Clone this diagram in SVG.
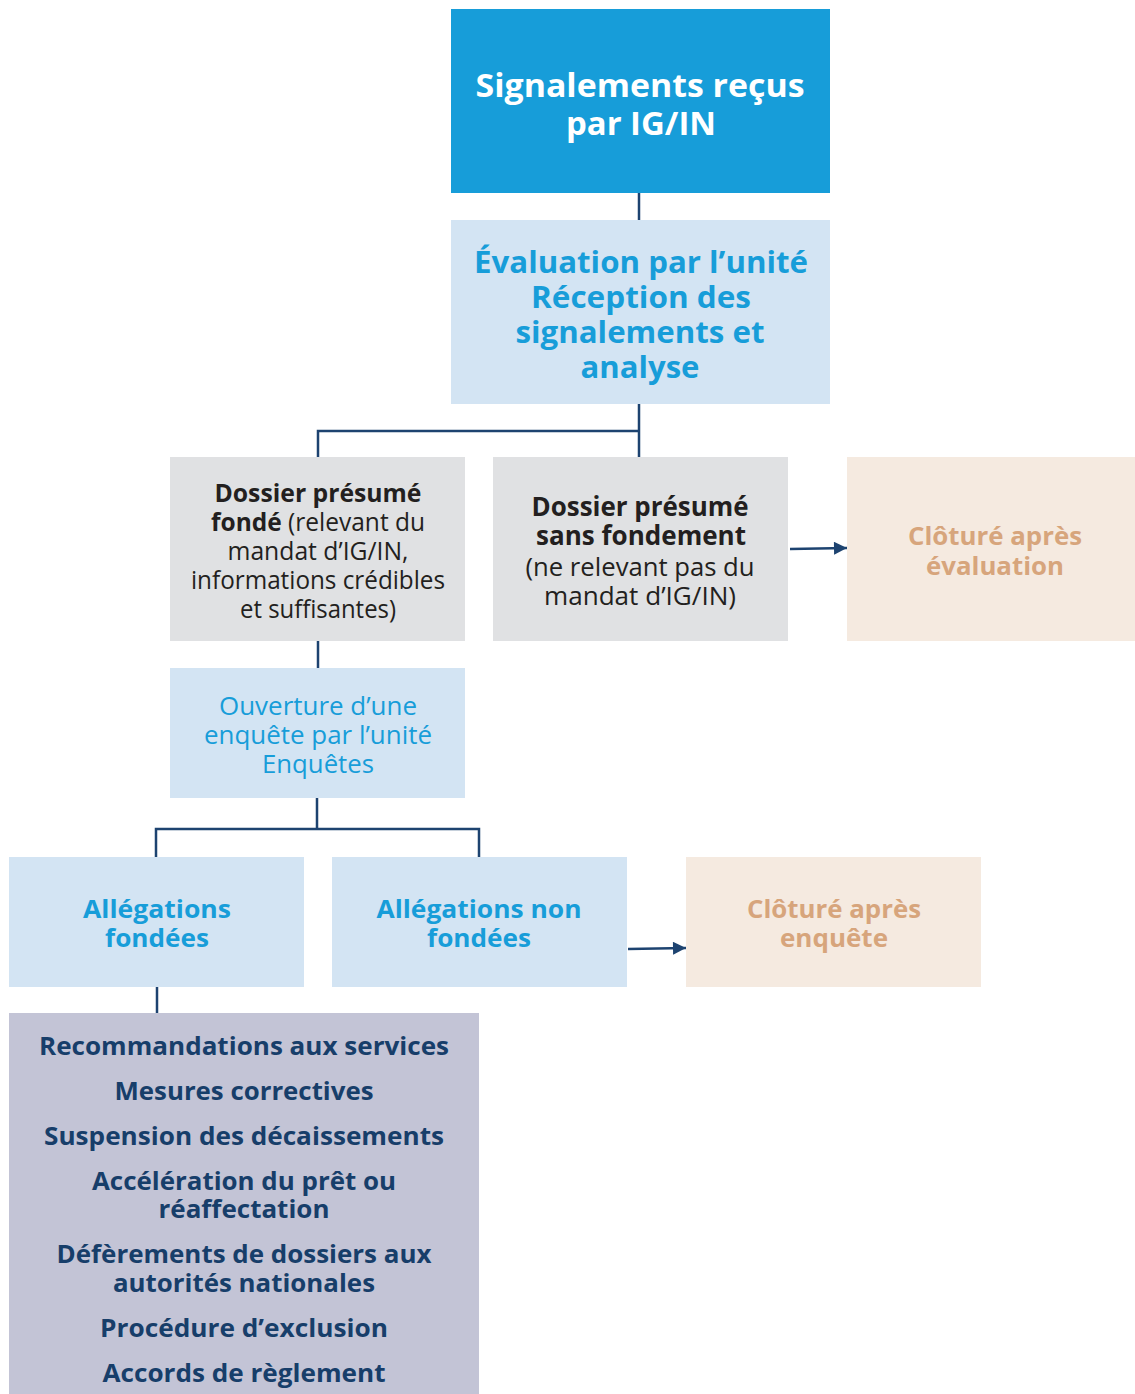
<svg xmlns="http://www.w3.org/2000/svg" width="1135" height="1394" viewBox="0 0 1135 1394">
<style>
text{font-family:"Open Sans","Noto Sans","Liberation Sans",sans-serif;text-anchor:middle}
.b{font-weight:700}
.w{fill:#ffffff}
.bl{fill:#179DD9}
.dk{fill:#231F20}
.bg{fill:#D7A57C}
.nv{fill:#173E6A}
.conn{fill:none;stroke:#1D4370;stroke-width:2.5}
</style>
<defs>
<marker id="ah2" viewBox="0 0 10 10" refX="10" refY="5" markerWidth="20" markerHeight="13" markerUnits="userSpaceOnUse" orient="auto">
<path d="M0,0 L10,5 L0,10 z" fill="#1D4370"/>
</marker>
</defs>
<g id="connectors">
<path class="conn" d="M639,193 V220"/>
<path class="conn" d="M639,404 V457 M639,431 H318 V457"/>
<path class="conn" d="M318,641 V668"/>
<path class="conn" d="M317,798 V829 M156,857 V829 H479 V857"/>
<path class="conn" d="M157,987 V1013"/>
<path class="conn" d="M790,549 L847,548" marker-end="url(#ah2)"/>
<path class="conn" d="M628,949 L686,948" marker-end="url(#ah2)"/>
</g>
<g id="n1">
<rect x="451" y="9" width="379" height="184" fill="#179DD9"/>
<text class="b w" font-size="33" x="640" y="97" textLength="329" lengthAdjust="spacingAndGlyphs">Signalements reçus</text>
<text class="b w" font-size="33" x="641" y="135" textLength="150" lengthAdjust="spacingAndGlyphs">par IG/IN</text>
</g>
<g id="n2">
<rect x="451" y="220" width="379" height="184" fill="#D3E4F3"/>
<text class="b bl" font-size="31" x="641" y="273" textLength="334" lengthAdjust="spacingAndGlyphs">Évaluation par l’unité</text>
<text class="b bl" font-size="31" x="641" y="308" textLength="220" lengthAdjust="spacingAndGlyphs">Réception des</text>
<text class="b bl" font-size="31" x="640" y="343" textLength="249" lengthAdjust="spacingAndGlyphs">signalements et</text>
<text class="b bl" font-size="31" x="640" y="378" textLength="119" lengthAdjust="spacingAndGlyphs">analyse</text>
</g>
<g id="n3">
<rect x="170" y="457" width="295" height="184" fill="#E0E1E3"/>
<text class="b dk" font-size="25" x="318" y="502" textLength="207" lengthAdjust="spacingAndGlyphs">Dossier présumé</text>
<text class="dk" font-size="25" x="318" y="531" textLength="214" lengthAdjust="spacingAndGlyphs"><tspan class="b">fondé</tspan> (relevant du</text>
<text class="dk" font-size="25" x="318" y="560" textLength="181" lengthAdjust="spacingAndGlyphs">mandat d’IG/IN,</text>
<text class="dk" font-size="25" x="318" y="589" textLength="254" lengthAdjust="spacingAndGlyphs">informations crédibles</text>
<text class="dk" font-size="25" x="318" y="618" textLength="156" lengthAdjust="spacingAndGlyphs">et suffisantes)</text>
</g>
<g id="n4">
<rect x="493" y="457" width="295" height="184" fill="#E0E1E3"/>
<text class="b dk" font-size="26" x="640" y="516" textLength="217" lengthAdjust="spacingAndGlyphs">Dossier présumé</text>
<text class="b dk" font-size="26" x="641" y="545" textLength="210" lengthAdjust="spacingAndGlyphs">sans fondement</text>
<text class="dk" font-size="25" x="640" y="576" textLength="229" lengthAdjust="spacingAndGlyphs">(ne relevant pas du</text>
<text class="dk" font-size="25" x="640" y="605" textLength="192" lengthAdjust="spacingAndGlyphs">mandat d’IG/IN)</text>
</g>
<g id="n5">
<rect x="847" y="457" width="288" height="184" fill="#F5EAE0"/>
<text class="b bg" font-size="25" x="995" y="545" textLength="174" lengthAdjust="spacingAndGlyphs">Clôturé après</text>
<text class="b bg" font-size="25" x="995" y="575" textLength="138" lengthAdjust="spacingAndGlyphs">évaluation</text>
</g>
<g id="n6">
<rect x="170" y="668" width="295" height="130" fill="#D3E4F3"/>
<text class="bl" font-size="25" x="318" y="715" textLength="198" lengthAdjust="spacingAndGlyphs">Ouverture d’une</text>
<text class="bl" font-size="25" x="318" y="744" textLength="228" lengthAdjust="spacingAndGlyphs">enquête par l’unité</text>
<text class="bl" font-size="25" x="318" y="773" textLength="112" lengthAdjust="spacingAndGlyphs">Enquêtes</text>
</g>
<g id="n7">
<rect x="9" y="857" width="295" height="130" fill="#D3E4F3"/>
<text class="b bl" font-size="25" x="157" y="918" textLength="148" lengthAdjust="spacingAndGlyphs">Allégations</text>
<text class="b bl" font-size="25" x="157" y="947" textLength="104" lengthAdjust="spacingAndGlyphs">fondées</text>
</g>
<g id="n8">
<rect x="332" y="857" width="295" height="130" fill="#D3E4F3"/>
<text class="b bl" font-size="25" x="479" y="918" textLength="205" lengthAdjust="spacingAndGlyphs">Allégations non</text>
<text class="b bl" font-size="25" x="479" y="947" textLength="104" lengthAdjust="spacingAndGlyphs">fondées</text>
</g>
<g id="n9">
<rect x="686" y="857" width="295" height="130" fill="#F5EAE0"/>
<text class="b bg" font-size="25" x="834" y="918" textLength="174" lengthAdjust="spacingAndGlyphs">Clôturé après</text>
<text class="b bg" font-size="25" x="834" y="947" textLength="108" lengthAdjust="spacingAndGlyphs">enquête</text>
</g>
<g id="n10">
<rect x="9" y="1013" width="470" height="381" fill="#C3C4D6"/>
<text class="b nv" font-size="25" x="244" y="1055" textLength="410" lengthAdjust="spacingAndGlyphs">Recommandations aux services</text>
<text class="b nv" font-size="25" x="244" y="1100" textLength="259" lengthAdjust="spacingAndGlyphs">Mesures correctives</text>
<text class="b nv" font-size="25" x="244" y="1145" textLength="400" lengthAdjust="spacingAndGlyphs">Suspension des décaissements</text>
<text class="b nv" font-size="25" x="244" y="1190" textLength="304" lengthAdjust="spacingAndGlyphs">Accélération du prêt ou</text>
<text class="b nv" font-size="25" x="244" y="1218" textLength="171" lengthAdjust="spacingAndGlyphs">réaffectation</text>
<text class="b nv" font-size="25" x="244" y="1263" textLength="375" lengthAdjust="spacingAndGlyphs">Défèrements de dossiers aux</text>
<text class="b nv" font-size="25" x="244" y="1292" textLength="262" lengthAdjust="spacingAndGlyphs">autorités nationales</text>
<text class="b nv" font-size="25" x="244" y="1337" textLength="288" lengthAdjust="spacingAndGlyphs">Procédure d’exclusion</text>
<text class="b nv" font-size="25" x="244" y="1382" textLength="283" lengthAdjust="spacingAndGlyphs">Accords de règlement</text>
</g>
</svg>
